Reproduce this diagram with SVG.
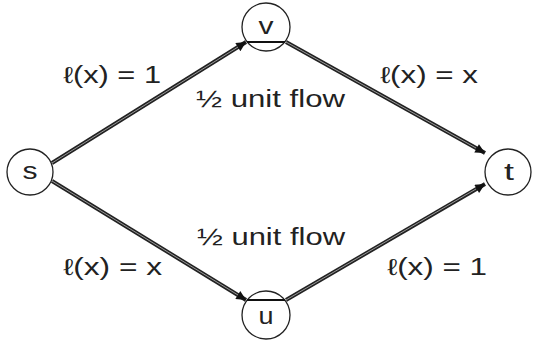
<svg xmlns="http://www.w3.org/2000/svg" width="534" height="343" viewBox="0 0 534 343">
<style>
.node{fill:#fff;stroke:#222;stroke-width:1.3}
.lbl{font-family:"Liberation Sans",Arial,sans-serif;font-size:23px;fill:#222}
.edge{stroke:#222;stroke-width:4;fill:none}
.inner{stroke:#999;stroke-width:1;fill:none}
.chord{stroke:#111;stroke-width:2}
</style>
<defs>
<marker id="ah" viewBox="0 0 10 10" refX="10" refY="5" markerWidth="3.2" markerHeight="2.4" orient="auto" markerUnits="strokeWidth">
<path d="M0,0 L10,5 L0,10 z" fill="#111"/>
</marker>
</defs>
<g id="connectors">
<line class="edge" x1="52" y1="163" x2="246" y2="42" marker-end="url(#ah)"/>
<line class="inner" x1="52" y1="163" x2="238" y2="47"/>
<line class="edge" x1="286" y1="42" x2="485" y2="153" marker-end="url(#ah)"/>
<line class="inner" x1="286" y1="42" x2="476" y2="148"/>
<line class="edge" x1="52" y1="181" x2="246" y2="300" marker-end="url(#ah)"/>
<line class="inner" x1="52" y1="181" x2="238" y2="295"/>
<line class="edge" x1="286" y1="300" x2="485" y2="184" marker-end="url(#ah)"/>
<line class="inner" x1="286" y1="300" x2="476" y2="189"/>
</g>
<g id="node-s"><circle class="node" cx="30" cy="172" r="23"/><text class="lbl" x="30" y="179" text-anchor="middle" textLength="15" lengthAdjust="spacingAndGlyphs">s</text></g>
<g id="node-t"><circle class="node" cx="508" cy="172" r="23"/><text class="lbl" x="509" y="180" text-anchor="middle" textLength="10" lengthAdjust="spacingAndGlyphs">t</text></g>
<g id="node-v"><circle class="node" cx="266" cy="27" r="24"/><line class="chord" x1="247" y1="42" x2="285" y2="42"/><text class="lbl" x="266" y="34" text-anchor="middle" textLength="15" lengthAdjust="spacingAndGlyphs">v</text></g>
<g id="node-u"><circle class="node" cx="266" cy="315" r="24"/><line class="chord" x1="247" y1="300" x2="285" y2="300"/><text class="lbl" x="266" y="324" text-anchor="middle" textLength="15" lengthAdjust="spacingAndGlyphs">u</text></g>
<g id="labels">
<text class="lbl" x="63" y="83" textLength="98" lengthAdjust="spacingAndGlyphs">ℓ(x) = 1</text>
<text class="lbl" x="380" y="83" textLength="98" lengthAdjust="spacingAndGlyphs">ℓ(x) = x</text>
<text class="lbl" x="196" y="107" textLength="149" lengthAdjust="spacingAndGlyphs">½ unit flow</text>
<text class="lbl" x="197" y="245" textLength="148" lengthAdjust="spacingAndGlyphs">½ unit flow</text>
<text class="lbl" x="63" y="275" textLength="99" lengthAdjust="spacingAndGlyphs">ℓ(x) = x</text>
<text class="lbl" x="387" y="275" textLength="100" lengthAdjust="spacingAndGlyphs">ℓ(x) = 1</text>
</g>
</svg>
